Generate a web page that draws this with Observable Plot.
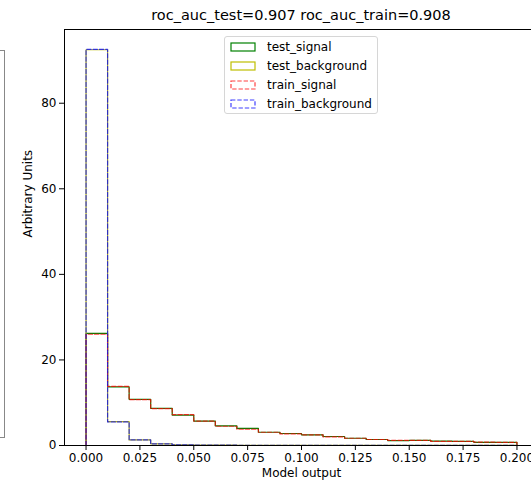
<!DOCTYPE html>
<html>
<head>
<meta charset="utf-8">
<script src="https://cdn.jsdelivr.net/npm/d3@7"></script>
<script src="https://cdn.jsdelivr.net/npm/@observablehq/plot@0.6"></script>
<style>
  html, body { margin: 0; padding: 0; background: #fff; overflow: hidden; }
  body { width: 531px; height: 483px; font-family: "DejaVu Sans", sans-serif; }
  #wrap { position: relative; width: 538px; height: 483px; }
  #title { height: 23px; box-sizing: border-box; padding-top: 7px; line-height: 16px; font-size: 14.5px;
           width: 538px; padding-left: 64px; text-align: center; color: #000; }
  #stray { position: absolute; left: -10px; top: 50px; width: 13px; height: 386px; border: 1px solid #888; }
  #legend { position: absolute; left: 224px; top: 36px; width: 154px; height: 78px; box-sizing: border-box;
            border: 1px solid #d6d6d6; border-radius: 3px; background: rgba(255,255,255,0.8); font-size: 12px; }
  .item { position: absolute; left: 5px; height: 19px; display: flex; align-items: center; }
  .item svg { margin-right: 11px; }
</style>
</head>
<body>
<div id="wrap">
  <div id="title"></div>
  <div id="stray"></div>
  <div id="chart"></div>
  <div id="legend"></div>
</div>
<script>
const titleText = "roc_auc_test=0.907 roc_auc_train=0.908";
const xLabel = "Model output";
const yLabel = "Arbitrary Units";

const binEdges = [0.00, 0.01, 0.02, 0.03, 0.04, 0.05, 0.06, 0.07, 0.08, 0.09, 0.10,
                  0.11, 0.12, 0.13, 0.14, 0.15, 0.16, 0.17, 0.18, 0.19, 0.20];

const testSignal      = [26.2, 13.7, 10.8, 8.7, 7.1, 5.7, 4.6, 4.0, 3.1, 2.8, 2.5, 2.1, 1.7, 1.4, 1.15, 1.2, 1.0, 0.95, 0.75, 0.75];
const testBackground  = [92.5, 5.6, 1.3, 0.4, 0.16, 0.12, 0.1, 0.05, 0.04, 0.03, 0.03, 0.02, 0.02, 0.02, 0.01, 0.01, 0.01, 0.01, 0.01, 0.01];
const trainSignal     = [26.0, 13.8, 10.7, 8.6, 7.2, 5.7, 4.5, 3.8, 3.1, 2.7, 2.5, 2.0, 1.7, 1.4, 1.2, 1.2, 0.95, 0.95, 0.8, 0.75];
const trainBackground = [92.6, 5.5, 1.3, 0.4, 0.15, 0.12, 0.1, 0.05, 0.04, 0.03, 0.03, 0.02, 0.02, 0.02, 0.01, 0.01, 0.01, 0.01, 0.01, 0.01];

const seriesNames  = ["test_signal", "test_background", "train_signal", "train_background"];
const seriesValues = [testSignal, testBackground, trainSignal, trainBackground];
const seriesColors = ["#008000", "#bfbf00", "#ff0000", "#0000ff"];
const seriesDashed = [false, false, true, true];
const seriesOpacity = [1, 1, 0.75, 0.75];

const xTicks = [0, 0.025, 0.05, 0.075, 0.1, 0.125, 0.15, 0.175, 0.2];
const yTicks = [0, 20, 40, 60, 80];

// build step outline (matplotlib histtype="step")
function stepOutline(values, name) {
  const pts = [{x: binEdges[0], y: 0, s: name}];
  values.forEach((v, i) => {
    pts.push({x: binEdges[i], y: v, s: name});
    pts.push({x: binEdges[i + 1], y: v, s: name});
  });
  pts.push({x: binEdges[binEdges.length - 1], y: 0, s: name});
  return pts;
}

const xMin = binEdges[0] - 0.05 * (binEdges[binEdges.length - 1] - binEdges[0]);
const xMax = binEdges[binEdges.length - 1] + 0.05 * (binEdges[binEdges.length - 1] - binEdges[0]);
const yMaxData = d3.max(seriesValues.flat());
const yMax = yMaxData * 1.05;

const marks = [];
seriesNames.forEach((name, k) => {
  marks.push(Plot.line(stepOutline(seriesValues[k], name), {
    x: "x", y: "y", stroke: seriesColors[k], strokeWidth: 1.2,
    strokeOpacity: seriesOpacity[k],
    strokeDasharray: seriesDashed[k] ? "4.4,1.9" : null
  }));
});

const plot = Plot.plot({
  width: 538,
  height: 460,
  marginLeft: 64,
  marginRight: 0,
  marginTop: 6,
  marginBottom: 38,
  style: {fontFamily: "DejaVu Sans, sans-serif", fontSize: "12px", color: "#000", background: "#fff"},
  x: {domain: [xMin, xMax]},
  y: {domain: [0, yMax]},
  marks: [
    ...marks,
    Plot.ruleY([0], {stroke: "#000", strokeWidth: 1}),
    Plot.ruleY([yMax], {stroke: "#000", strokeWidth: 1}),
    Plot.ruleX([xMin], {stroke: "#000", strokeWidth: 1}),
    Plot.axisX(xTicks, {tickSize: 5, tickPadding: 3, tickFormat: d3.format(".3f"), label: null, fontSize: 12, stroke: "#000"}),
    Plot.axisY(yTicks, {tickSize: 5, tickPadding: 3, label: null, fontSize: 12, stroke: "#000"}),
    Plot.text([xLabel], {frameAnchor: "bottom", dy: 31, text: d => d, fontSize: 12, fill: "#000"}),
    Plot.text([yLabel], {frameAnchor: "left", dx: -36, rotate: -90, text: d => d, fontSize: 12, fill: "#000"})
  ]
});
document.getElementById("chart").appendChild(plot);
document.getElementById("title").textContent = titleText;

const legend = document.getElementById("legend");
const svgNS = "http://www.w3.org/2000/svg";
seriesNames.forEach((name, k) => {
  const item = document.createElement("div");
  item.className = "item";
  item.style.top = (k * 19) + "px";
  const sw = document.createElementNS(svgNS, "svg");
  sw.setAttribute("width", "26");
  sw.setAttribute("height", "10");
  const r = document.createElementNS(svgNS, "rect");
  r.setAttribute("x", "1"); r.setAttribute("y", "1");
  r.setAttribute("width", "24"); r.setAttribute("height", "8");
  r.setAttribute("fill", "none");
  r.setAttribute("stroke", seriesColors[k]);
  r.setAttribute("stroke-width", "1.2");
  r.setAttribute("stroke-opacity", seriesOpacity[k]);
  if (seriesDashed[k]) r.setAttribute("stroke-dasharray", "4.4,1.9");
  sw.appendChild(r);
  const lab = document.createElement("span");
  lab.textContent = name;
  item.appendChild(sw);
  item.appendChild(lab);
  legend.appendChild(item);
});
</script>
</body>
</html>
